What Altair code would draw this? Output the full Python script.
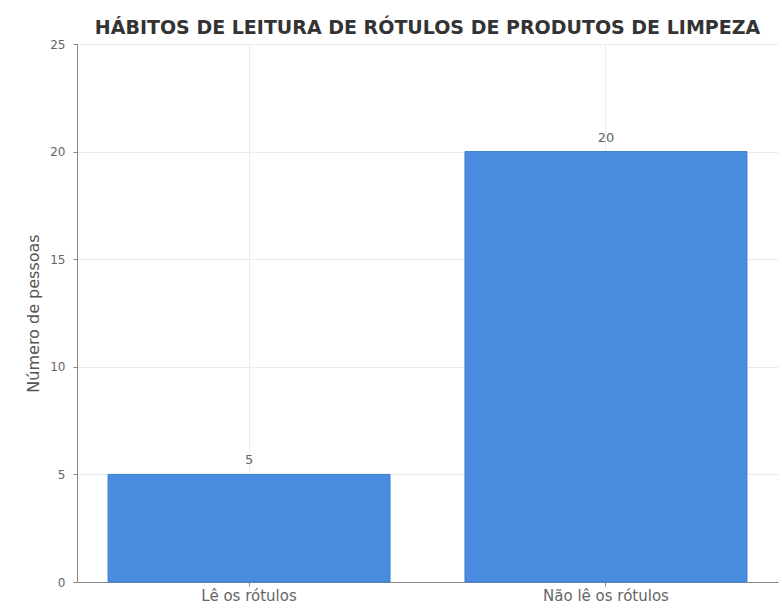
import altair as alt
import pandas as pd

categories = ["Lê os rótulos", "Não lê os rótulos"]
values = [5, 20]
title_text = "HÁBITOS DE LEITURA DE RÓTULOS DE PRODUTOS DE LIMPEZA"
y_ticks = [0, 5, 10, 15, 20, 25]

df = pd.DataFrame({"cat": categories, "val": values})

x = alt.X("cat:N", sort=categories, title=None,
          scale=alt.Scale(paddingInner=0.21, paddingOuter=0.087),
          axis=alt.Axis(labelAngle=0, labelColor="#666", labelFontSize=15,
                        labelFont="DejaVu Sans", grid=True, gridColor="#ececec",
                        domainColor="#888", tickColor="#888", tickSize=4, labelPadding=2))
y = alt.Y("val:Q", title="Número de pessoas",
          scale=alt.Scale(domain=[0, 25], nice=False),
          axis=alt.Axis(values=y_ticks, labelColor="#666", labelFontSize=12,
                        labelFont="DejaVu Sans", gridColor="#ececec",
                        domainColor="#888", tickColor="#888", tickSize=4, labelPadding=8,
                        titleColor="#555", titleFontSize=16, titleFont="DejaVu Sans",
                        titleFontWeight="normal", titlePadding=8))

bars = alt.Chart(df).mark_bar(color="#4A8DE0", stroke="#3b7dd0", strokeWidth=1).encode(x=x, y=y)
labels = alt.Chart(df).mark_text(dy=-14, fontSize=13, color="#666", font="DejaVu Sans").encode(
    x=alt.X("cat:N", sort=categories), y="val:Q", text="val:Q")

chart = (bars + labels).properties(
    width=701, height=538,
    title=alt.TitleParams(title_text, fontSize=19, font="DejaVu Sans", fontWeight="bold",
                          color="#333", anchor="middle", offset=0),
    autosize=alt.AutoSizeParams(type="none"),
    padding={"left": 77, "top": 44, "right": 4, "bottom": 26},
).configure_view(stroke=None)

chart.save("out.html", embed_options={"renderer": "svg", "actions": False})
